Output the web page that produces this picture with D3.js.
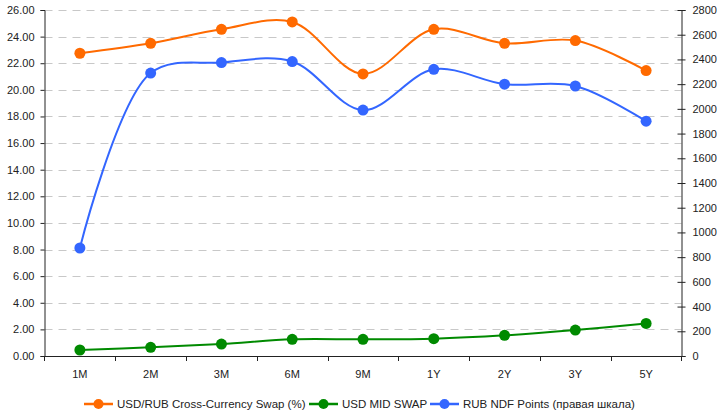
<!DOCTYPE html>
<html><head><meta charset="utf-8">
<script src="https://cdn.jsdelivr.net/npm/d3@7"></script>
<style>body{margin:0;background:#fff}svg{display:block}text{font-family:"Liberation Sans",Arial,sans-serif;fill:#222}</style>
</head><body>
<svg id="c" width="717" height="416"></svg>
<script>
const categories = ["1M","2M","3M","6M","9M","1Y","2Y","3Y","5Y"];
const ccsValues = [22.75,23.5,24.55,25.1,21.2,24.55,23.5,23.7,21.45];
const midSwapValues = [0.45,0.65,0.9,1.25,1.25,1.3,1.55,1.95,2.45];
const ndfValues = [874,2290,2375,2383,1990,2320,2200,2185,1900];
const leftTicks = d3.range(0,26.01,2);
const rightTicks = d3.range(0,2801,200);
const seriesNames = ["USD/RUB Cross-Currency Swap (%)","USD MID SWAP","RUB NDF Points (правая шкала)"];
const colors = ["#FF6A00","#008A00","#3366FF"];

const svg = d3.select("#c");
const L=44.5, R=681.5, T=10, B=356;
const x = d3.scaleBand().domain(categories).range([L,R]);
const yL = d3.scaleLinear().domain([0,26]).range([B,T]);
const yR = d3.scaleLinear().domain([0,2800]).range([B,T]);

// grid
svg.append("g").selectAll("line").data(leftTicks.filter(d=>d>0)).join("line")
  .attr("x1",L).attr("x2",R).attr("y1",d=>Math.round(yL(d))+0.5).attr("y2",d=>Math.round(yL(d))+0.5)
  .attr("stroke","#c8c8c8").attr("stroke-width",1).attr("stroke-dasharray","8,6");

// left axis
const gl = svg.append("g").attr("transform",`translate(${L},0)`)
  .call(d3.axisLeft(yL).tickValues(leftTicks).tickFormat(d3.format(".2f")).tickSize(4).tickPadding(6));
gl.select(".domain").attr("stroke","#222");
gl.selectAll(".tick line").attr("stroke","#222");
gl.selectAll("text").style("font-size","11px").attr("fill","#222");

// right axis
const gr = svg.append("g").attr("transform",`translate(${R},0)`)
  .call(d3.axisRight(yR).tickValues(rightTicks).tickFormat(d3.format("d")).tickSize(4).tickPadding(7));
gr.select(".domain").attr("stroke","#222");
gr.selectAll(".tick line").attr("stroke","#222").attr("x1",-4);
gr.selectAll("text").style("font-size","11px").attr("fill","#222");

// bottom axis
const gb = svg.append("g").attr("transform",`translate(0,${B})`)
  .call(d3.axisBottom(x).tickSize(0).tickPadding(14));
gb.select(".domain").attr("stroke","#222").attr("d",`M${L},0.5H${R}`);
gb.selectAll("text").style("font-size","11px").attr("fill","#222");
svg.append("g").selectAll("line").data(categories.slice(1)).join("line")
  .attr("x1",d=>Math.round(x(d))+0.5).attr("x2",d=>Math.round(x(d))+0.5)
  .attr("y1",B).attr("y2",B+5).attr("stroke","#222");
svg.append("line").attr("x1",L).attr("x2",L).attr("y1",B).attr("y2",B+5).attr("stroke","#222");
svg.append("line").attr("x1",R).attr("x2",R).attr("y1",B).attr("y2",B+5).attr("stroke","#222");

const cx = d=>x(d)+x.bandwidth()/2;
const series = [
  {vals:ccsValues, y:yL, color:colors[0]},
  {vals:midSwapValues, y:yL, color:colors[1]},
  {vals:ndfValues, y:yR, color:colors[2]}
];
series.forEach(s=>{
  const pts = categories.map((c,i)=>[cx(c), s.y(s.vals[i])]);
  svg.append("path").attr("d", d3.line().curve(d3.curveCatmullRom.alpha(0.5))(pts))
    .attr("fill","none").attr("stroke",s.color).attr("stroke-width",2);
  svg.append("g").selectAll("circle").data(pts).join("circle")
    .attr("cx",d=>d[0]).attr("cy",d=>d[1]).attr("r",5.5).attr("fill",s.color);
});

// legend
const lg = svg.append("g");
const legX = [84, 309, 430];
seriesNames.forEach((n,i)=>{
  const g = lg.append("g").attr("transform",`translate(${legX[i]},404)`);
  g.append("line").attr("x1",0).attr("x2",29).attr("y1",0).attr("y2",0).attr("stroke",colors[i]).attr("stroke-width",2.5);
  g.append("circle").attr("cx",14.5).attr("cy",0).attr("r",5).attr("fill",colors[i]);
  g.append("text").attr("x",33).attr("y",4).style("font-size","11.5px").text(n);
});
</script>
</body></html>
